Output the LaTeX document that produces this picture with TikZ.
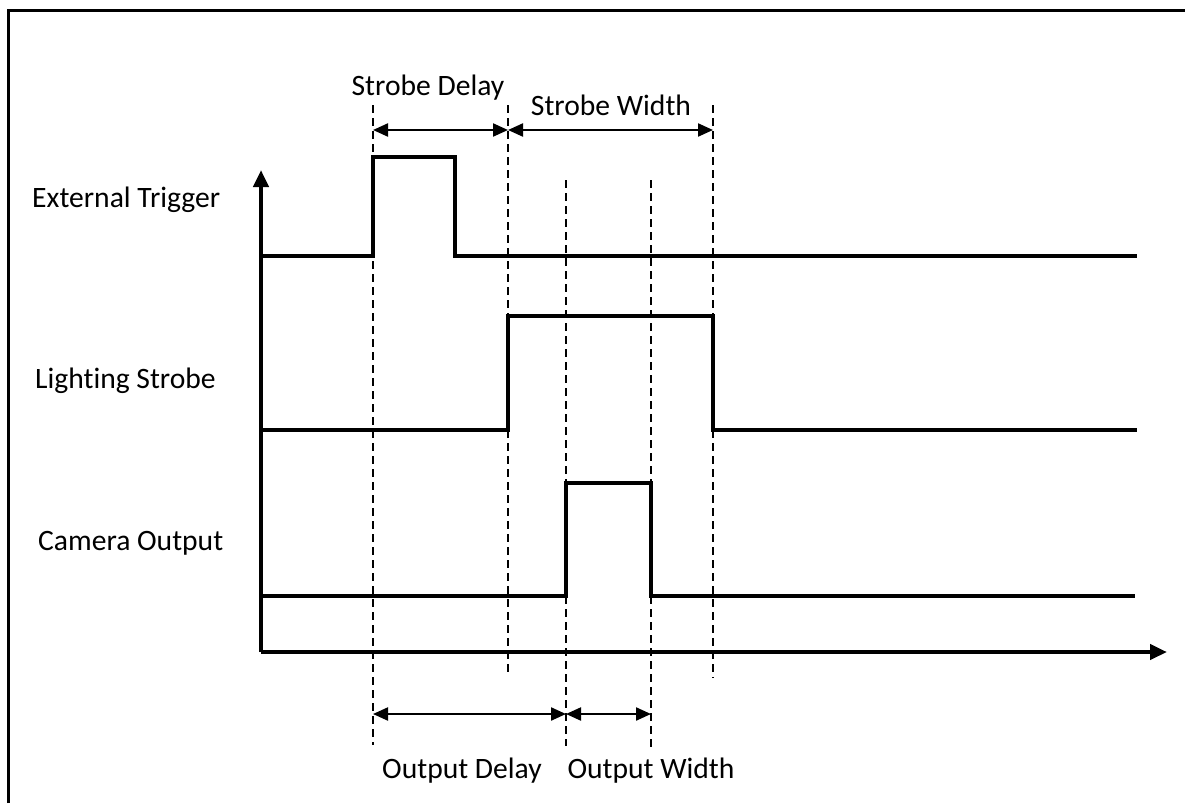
\documentclass[tikz,border=0pt]{standalone}
\usepackage{fontspec}
\setmainfont{Carlito}[Ligatures=NoCommon]
\usetikzlibrary{arrows.meta}
\begin{document}
\begin{tikzpicture}[x=1pt,y=-1pt,
  signal/.style={line width=4.3pt, line join=miter},
  axis/.style={line width=4.3pt,-{Triangle[length=17pt,width=15pt]}},
  guide/.style={line width=2pt, dash pattern=on 8pt off 5pt},
  dim/.style={line width=2.2pt,{Triangle[length=15pt,width=13pt]}-{Triangle[length=15pt,width=13pt]}},
  lbl/.style={font=\fontsize{29.6}{34}\selectfont, inner sep=0pt}]
\useasboundingbox (0,0) rectangle (1185,803);
% frame
\draw[line width=3pt] (8,803) -- (8,10) -- (1185,10);
% axes
\coordinate (O) at (261,652);
\coordinate (Ytip) at (261,170);
\coordinate (Xtip) at (1167,652);
\draw[axis] (O) -- (Ytip);
\draw[axis] (O) -- (Xtip);
% guide lines
\coordinate (g1t) at (373,105); \coordinate (g1b) at (373,745);
\coordinate (g2t) at (508,105); \coordinate (g2b) at (508,672);
\coordinate (g3t) at (566,180); \coordinate (g3b) at (566,746);
\coordinate (g4t) at (651,180); \coordinate (g4b) at (651,748);
\coordinate (g5t) at (713,105); \coordinate (g5b) at (713,678);
\foreach \g in {1,...,5} \draw[guide] (g\g t) -- (g\g b);
% signals
\draw[signal] (261,256) -- (373,256) -- (373,157) -- (455,157) -- (455,256) -- (1137,256);
\draw[signal] (261,430) -- (508,430) -- (508,316) -- (713,316) -- (713,430) -- (1137,430);
\draw[signal] (261,596) -- (566,596) -- (566,483) -- (651,483) -- (651,596) -- (1135,596);
% dimension arrows
\coordinate (sd1) at (373,130); \coordinate (sd2) at (508,130); \coordinate (sw2) at (713,130);
\coordinate (od1) at (373,714); \coordinate (od2) at (566,714); \coordinate (ow2) at (651,714);
\draw[dim] (sd1) -- (sd2);
\draw[dim] (sd2) -- (sw2);
\draw[dim] (od1) -- (od2);
\draw[dim] (od2) -- (ow2);
% labels
\node[lbl, anchor=base west] (et) at (32,207) {External Trigger};
\node[lbl, anchor=base west] (ls) at (35,388) {Lighting Strobe};
\node[lbl, anchor=base west] (co) at (38,550) {Camera Output};
\node[lbl, anchor=base] (sdl) at (428,95) {Strobe Delay};
\node[lbl, anchor=base] (swl) at (611,115) {Strobe Width};
\node[lbl, anchor=base] (odl) at (462,778) {Output Delay};
\node[lbl, anchor=base] (owl) at (651,778) {Output Width};
\end{tikzpicture}
\end{document}
